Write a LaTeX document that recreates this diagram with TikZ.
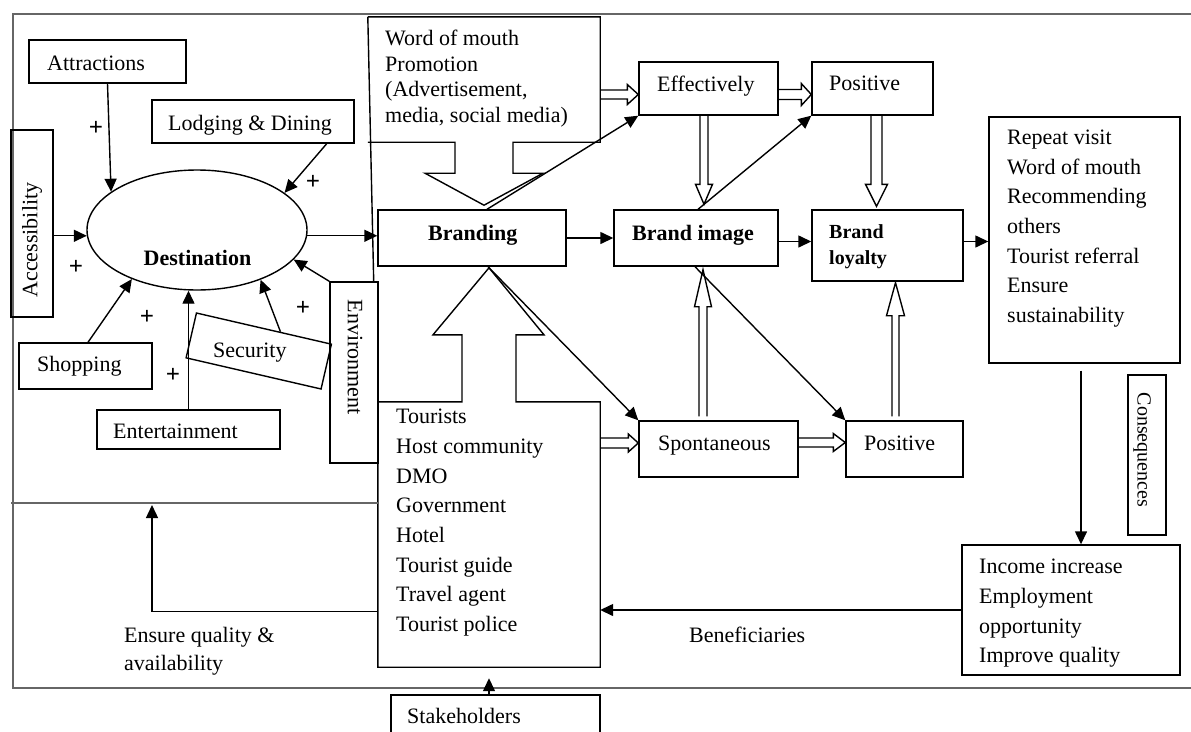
\documentclass[tikz,border=0pt]{standalone}
\usepackage{fontspec}
\setmainfont{Liberation Serif}
\usetikzlibrary{arrows.meta,shapes.geometric,calc}
\begin{document}
\begin{tikzpicture}[x=1pt,y=-1pt,
  box/.style={draw,line width=1.4pt,rectangle,inner sep=0pt},
  outl/.style={draw,line width=1.4pt,line join=miter},
  frame/.style={draw=black!60,line width=1.4pt},
  arr/.style={line width=1.4pt,-{Triangle[length=13pt,width=12pt]}},
  lbl/.style={inner sep=0pt,font=\fontsize{22}{29.6}\selectfont},
  lblb/.style={inner sep=0pt,font=\fontsize{22}{29.6}\selectfont\bfseries},
  pls/.style={inner sep=0pt,font=\fontsize{25}{25}\selectfont\bfseries},
  hsw/.code={\def\hoS{#1}}, hhw/.code={\def\hoH{#1}}, hln/.code={\def\hoL{#1}},
  hsw=4.5pt, hhw=10pt, hln=12pt,
  hol/.style={draw,line width=1.4pt},
  hright/.style={hol,to path={let \p1=(\tikztostart),\p2=(\tikztotarget) in (\x1,\y1+\hoS) -- (\x2-\hoL,\y1+\hoS) -- (\x2-\hoL,\y1+\hoH) -- (\x2,\y1) -- (\x2-\hoL,\y1-\hoH) -- (\x2-\hoL,\y1-\hoS) -- (\x1,\y1-\hoS)}},
  hdown/.style={hol,to path={let \p1=(\tikztostart),\p2=(\tikztotarget) in (\x1-\hoS,\y1) -- (\x1-\hoS,\y2+\hoL) -- (\x1-\hoH,\y2+\hoL) -- (\x1,\y2) -- (\x1+\hoH,\y2+\hoL) -- (\x1+\hoS,\y2+\hoL) -- (\x1+\hoS,\y1)}},
  hup/.style={hol,to path={let \p1=(\tikztostart),\p2=(\tikztotarget) in (\x1-\hoS,\y1) -- (\x1-\hoS,\y2-\hoL) -- (\x1-\hoH,\y2-\hoL) -- (\x1,\y2) -- (\x1+\hoH,\y2-\hoL) -- (\x1+\hoS,\y2-\hoL) -- (\x1+\hoS,\y1)}},
]
\useasboundingbox (0,0) rectangle (1191,731);

% frame
\coordinate (ftl) at (13,14);
\coordinate (ftr) at (1191,14);
\coordinate (fbl) at (13,688);
\coordinate (fbr) at (1191,688);
\path[frame] (ftr) -- (ftl) -- (fbl) -- (fbr);

% boxes
\node[box,minimum width=157,minimum height=43] (attr) at (107.5,61.5) {};
\node[box,minimum width=202,minimum height=43] (lodg) at (253,121.5) {};
\node[box,minimum width=42,minimum height=187] (acc) at (32,223.5) {};
\node[box,minimum width=133,minimum height=46] (shop) at (85.5,366) {};
\node[box,minimum width=183,minimum height=39] (ent) at (188.5,429.5) {};
\node[box,minimum width=138.5,minimum height=46,rotate=-13] (sec) at (258.75,351) {};
\node[box,minimum width=48,minimum height=181] (env) at (354,372.5) {};
\node[draw,line width=1.4pt,shape=ellipse,inner sep=0pt,minimum width=220,minimum height=120] (dest) at (197,230) {};
\node[box,minimum width=188,minimum height=56] (brd) at (472,238) {};
\node[box,minimum width=164,minimum height=56] (bimg) at (696,238) {};
\node[box,minimum width=151,minimum height=71] (bloy) at (887.5,245.5) {};
\node[box,minimum width=191,minimum height=246] (rep) at (1084.5,240) {};
\node[box,minimum width=139,minimum height=53] (eff) at (708.5,88.5) {};
\node[box,minimum width=121,minimum height=53] (pos1) at (872.5,88.5) {};
\node[box,minimum width=159,minimum height=56] (spo) at (718.5,449) {};
\node[box,minimum width=117,minimum height=56] (pos2) at (904.5,449) {};
\node[box,minimum width=38,minimum height=160] (cons) at (1147,455) {};
\node[box,minimum width=218,minimum height=130] (inc) at (1071,610) {};
\node[box,minimum width=209,minimum height=60] (stk) at (495.5,725) {};

% callout: word of mouth
\node[inner sep=0pt,minimum width=232,minimum height=125] (wom) at (484,79.5) {};
\path[outl] (wom.north west) -- (wom.north east) -- (wom.south east) -- ($(wom.south)+(29,0)$) -- ++(0,31) -- ++(30,0) -- ($(wom.south)+(0,63)$) -- ($(wom.south)+(-59,31)$) -- ++(30,0) -- ($(wom.south)+(-29,0)$) -- (wom.south west);
\path[outl] (wom.north west) -- ($(env.north east)+(-5,0)$);

% callout: stakeholders list
\node[inner sep=0pt,minimum width=222,minimum height=265] (tour) at (489,534.5) {};
\path[outl] (tour.north east) -- (tour.south east) -- (tour.south west) -- (tour.north west) -- ($(tour.north)+(-27,0)$) -- ++(0,-67) -- ++(-29,0) -- ($(tour.north)+(0,-134)$) -- ($(tour.north)+(55,-67)$) -- ++(-28,0) -- ($(tour.north)+(27,0)$) -- cycle;

% inner horizontal line
\coordinate (ml) at (11,503);
\path[frame] (ml) -- (ml -| tour.west);

% texts
\node[lbl,anchor=base west] (attrt) at (47,70) {Attractions};
\node[lbl,anchor=base west] (lodgt) at (168,130) {Lodging \& Dining};
\node[lbl,rotate=90] (acct) at (32,240) {Accessibility};
\node[lblb,anchor=base] (destt) at (197.5,265) {Destination};
\node[lbl,anchor=base west] (shopt) at (37,371) {Shopping};
\node[lbl,anchor=base west] (entt) at (113,438) {Entertainment};
\node[lbl,anchor=base west] (sect) at (213,357) {Security};
\node[lbl,rotate=-90] (envt) at (355,357) {Environment};
\node[lbl,anchor=north west,align=left,font=\fontsize{22}{25.6}\selectfont] (womt) at (385,30) {Word of mouth\\Promotion\\(Advertisement,\\media, social media)};
\node[lblb,anchor=base west] (brdt) at (428,240) {Branding};
\node[lblb,anchor=base west] (bimgt) at (632,240) {Brand image};
\node[inner sep=0pt,anchor=north west,align=left,font=\fontsize{20}{26}\selectfont\bfseries] (bloyt) at (829,224.5) {Brand\\loyalty};
\node[lbl,anchor=north west,align=left] (rept) at (1007,130) {Repeat visit\\Word of mouth\\Recommending\\others\\Tourist referral\\Ensure\\sustainability};
\node[lbl,anchor=base west] (efft) at (657,91) {Effectively};
\node[lbl,anchor=base west] (pos1t) at (829,90) {Positive};
\node[lbl,anchor=base west] (spot) at (658,450) {Spontaneous};
\node[lbl,anchor=base west] (pos2t) at (864,450) {Positive};
\node[lbl,anchor=north west,align=left,font=\fontsize{22}{29.7}\selectfont] (tourt) at (396,409) {Tourists\\Host community\\DMO\\Government\\Hotel\\Tourist guide\\Travel agent\\Tourist police};
\node[inner sep=0pt,rotate=-90,font=\fontsize{20}{20}\selectfont] (const) at (1142,450) {Consequences};
\node[lbl,anchor=north west,align=left,font=\fontsize{22}{29.7}\selectfont] (inct) at (979,559) {Income increase\\Employment\\opportunity\\Improve quality};
\node[lbl,anchor=base west] (bent) at (689,642) {Beneficiaries};
\node[lbl,anchor=north west,align=left,font=\fontsize{22}{28}\selectfont] (eqt) at (124,627) {Ensure quality \&\\availability};
\node[lbl,anchor=base west] (stkt) at (407,723) {Stakeholders};

% plus signs
\node[pls] (p1) at (96,128) {+};
\node[pls] (p2) at (313,182) {+};
\node[pls] (p3) at (76,267) {+};
\node[pls] (p4) at (147,317) {+};
\node[pls] (p5) at (173,375) {+};
\node[pls] (p6) at (303,308) {+};

% arrows into destination
\draw[arr] (attr.south) -- (dest.156.5);
\draw[arr] ($(lodg.south east)+(-28,0)$) -- (dest.23.5);
\draw[arr] (acc.east |- dest.183.7) -- (dest.183.7);
\draw[arr] ($(shop.north)+(2.5,0)$) -- (dest.217.3);
\draw[arr] (ent.north) -- (ent.north |- dest.south);
\draw[arr] ($(sec.north)!0.24!(sec.north east)$) -- (dest.-38);
\draw[arr] (env.north west) -- (dest.-17);

% main chain
\draw[arr] (dest.-3.7) -- (brd.west |- dest.-3.7);
\draw[arr] (brd.east) -- (bimg.west);
\coordinate (bl) at ($(bloy.west)+(0,-4)$);
\draw[arr] (bimg.east |- bl) -- (bl);
\coordinate (br) at ($(bloy.east)+(0,-4)$);
\draw[arr] (br) -- (rep.west |- br);

% diagonals
\draw[arr] ($(brd.north)+(15,0)$) -- (eff.south west);
\draw[arr] ($(bimg.north)+(2,0)$) -- (pos1.south west);
\draw[arr] ($(brd.south)+(16,0)$) -- (spo.north west);
\draw[arr] ($(bimg.south)+(-1,0)$) -- (pos2.north west);

% consequences
\coordinate (ri) at ($(rep.south)+(-3.5,7)$);
\draw[arr] (ri) -- (ri |- inc.north);
\draw[arr] (inc.west) -- (inc.west -| tour.east);
\coordinate (eqs) at ($(tour.south west)+(0,-56)$);
\coordinate (eqa) at (152,505);
\draw[arr] (eqs) -| (eqa);
\draw[arr] (stk.north -| tour.south) -- ($(tour.south)+(0,11)$);

% hollow arrows
\coordinate (h1) at ($(eff.west)+(0,6)$);
\draw[hright,hsw=4.5pt,hhw=10pt,hln=11pt] (wom.east |- h1) to (h1);
\coordinate (h2) at ($(pos1.west)+(0,6)$);
\draw[hright,hsw=5pt,hhw=11pt,hln=10pt] (eff.east |- h2) to (h2);
\coordinate (h3) at ($(eff.south)+(-4.5,0)$);
\draw[hdown,hsw=4pt,hhw=8.5pt,hln=20pt] (h3) to ($(h3 |- bimg.north)+(0,-5)$);
\coordinate (h4) at ($(pos1.south)+(4,0)$);
\draw[hdown,hsw=5.5pt,hhw=11pt,hln=22pt] (h4) to ($(h4 |- bloy.north)+(0,-3)$);
\coordinate (h5) at ($(spo.north)+(-15.5,-4)$);
\draw[hup,hsw=4pt,hhw=8.5pt,hln=37pt] (h5) to ($(h5 |- bimg.south)+(0,3)$);
\coordinate (h6) at ($(pos2.north)+(-9,-4)$);
\draw[hup,hsw=3.5pt,hhw=9pt,hln=33pt] (h6) to ($(h6 |- bloy.south)+(0,1)$);
\coordinate (h7) at ($(spo.west)+(0,-6)$);
\draw[hright,hsw=5pt,hhw=9pt,hln=10pt] (tour.east |- h7) to (h7);
\coordinate (h8) at ($(pos2.west)+(0,-6.5)$);
\draw[hright,hsw=4.5pt,hhw=9pt,hln=12pt] (spo.east |- h8) to (h8);
\end{tikzpicture}
\end{document}
